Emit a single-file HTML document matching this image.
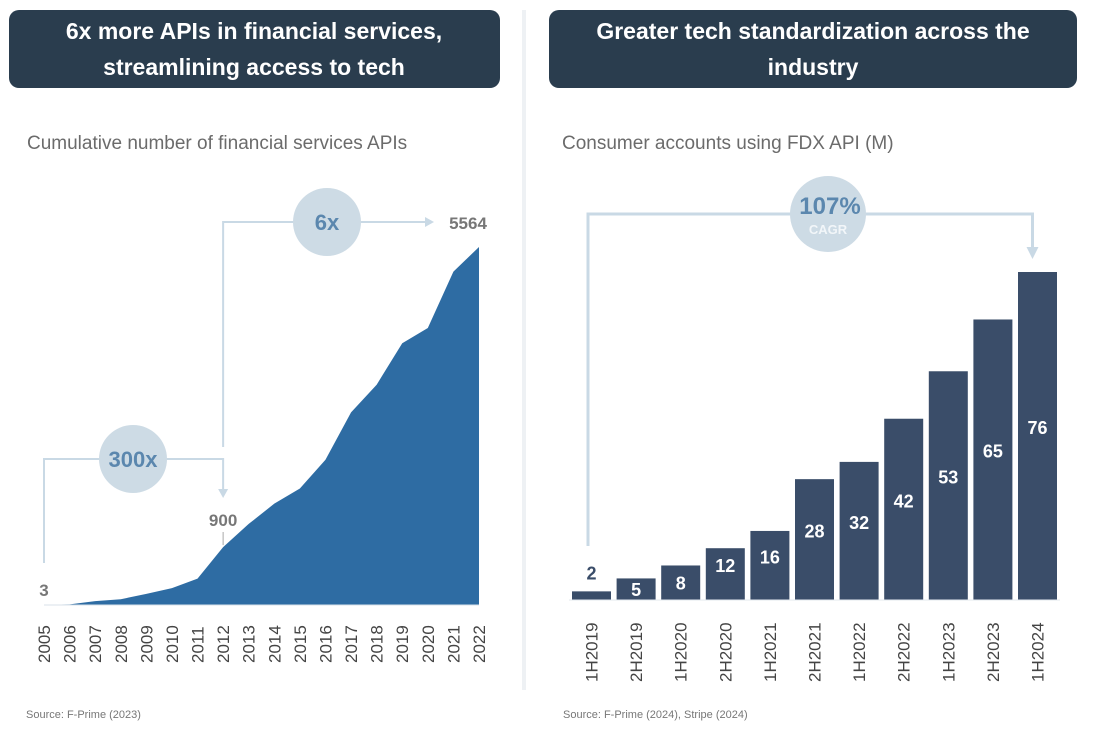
<!DOCTYPE html>
<html><head><meta charset="utf-8"><style>
body{margin:0;background:#fff;width:1094px;height:725px;overflow:hidden;font-family:"Liberation Sans",sans-serif}
</style></head><body>
<svg width="1094" height="725" viewBox="0 0 1094 725" xmlns="http://www.w3.org/2000/svg" font-family="Liberation Sans, sans-serif">
<g>
<rect x="9" y="10" width="491" height="78" rx="10" fill="#2a3d4e"/>
<text x="254" y="39" text-anchor="middle" fill="#fff" font-size="23" font-weight="bold">6x more APIs in financial services,</text>
<text x="254" y="75" text-anchor="middle" fill="#fff" font-size="23" font-weight="bold">streamlining access to tech</text>
<text x="27" y="149" fill="#6b6b6b" font-size="19">Cumulative number of financial services APIs</text>
<g id="area"></g>
<text x="26" y="718" fill="#777" font-size="11">Source: F-Prime (2023)</text>
</g>
<rect x="522" y="10" width="4" height="680" fill="#eef1f4"/>
<g>
<rect x="549" y="10" width="528" height="78" rx="10" fill="#2a3d4e"/>
<text x="813" y="39" text-anchor="middle" fill="#fff" font-size="23" font-weight="bold">Greater tech standardization across the</text>
<text x="813" y="75" text-anchor="middle" fill="#fff" font-size="23" font-weight="bold">industry</text>
<text x="562" y="149" fill="#6b6b6b" font-size="19">Consumer accounts using FDX API (M)</text>
<g id="bars"></g>
<text x="563" y="718" fill="#777" font-size="11">Source: F-Prime (2024), Stripe (2024)</text>
</g>
</svg>
<script>
const years=['2005','2006','2007','2008','2009','2010','2011','2012','2013','2014','2015','2016','2017','2018','2019','2020','2021','2022'];
const apis=[3,10,60,90,173,263,410,900,1260,1575,1811,2258,2993,3423,4069,4305,5182,5564];
const periods=['1H2019','2H2019','1H2020','2H2020','1H2021','2H2021','1H2022','2H2022','1H2023','2H2023','1H2024'];
const accounts=[2,5,8,12,16,28,32,42,53,65,76];
const NS='http://www.w3.org/2000/svg';
function mk(p,t,a){const e=document.createElementNS(NS,t);for(const k in a)e.setAttribute(k,a[k]);p.appendChild(e);return e;}
const LC='#c9d9e5',CC='#cddbe5',CT='#5b87ae';
// left area
const ga=document.getElementById('area');
const x0=44,x1=479,base=605,yTop=247;
const lx=i=>x0+i*(x1-x0)/(years.length-1);
const ly=v=>base-v/apis[apis.length-1]*(base-yTop);
let d='M'+lx(0)+','+base;
apis.forEach((v,i)=>{d+=' L'+lx(i)+','+ly(v);});
d+=' L'+lx(apis.length-1)+','+base+' Z';
const ar=mk(ga,'path',{d:d,fill:'#2e6ca3'});


mk(ga,'line',{x1:x0,y1:base,x2:x1,y2:base,stroke:'#d8e2ea','stroke-width':1});
years.forEach((y,i)=>{const t=mk(ga,'text',{transform:`translate(${lx(i)+6},663) rotate(-90)`,'font-size':17,fill:'#444'});t.textContent=y;

});
// brackets left
const i12=years.indexOf('2012');
mk(ga,'path',{d:`M${lx(0)},563 V459 H${lx(i12)} V492`,fill:'none',stroke:LC,'stroke-width':2});
mk(ga,'path',{d:`M${lx(i12)-5},489 L${lx(i12)},498 L${lx(i12)+5},489`,fill:LC});
mk(ga,'path',{d:`M${lx(i12)},447 V222 H428`,fill:'none',stroke:LC,'stroke-width':2});
mk(ga,'path',{d:`M425,217 L434,222 L425,227 Z`,fill:LC});
let c=mk(ga,'circle',{cx:133,cy:459,r:34,fill:CC});


let t=mk(ga,'text',{x:133,y:467,'text-anchor':'middle','font-size':22,'font-weight':'bold',fill:CT});t.textContent='300x';
c=mk(ga,'circle',{cx:327,cy:222,r:34,fill:CC});


t=mk(ga,'text',{x:327,y:230,'text-anchor':'middle','font-size':22,'font-weight':'bold',fill:CT});t.textContent='6x';
t=mk(ga,'text',{x:lx(0),y:596,'text-anchor':'middle','font-size':17,'font-weight':'bold',fill:'#777'});t.textContent=apis[0];


t=mk(ga,'text',{x:lx(i12),y:526,'text-anchor':'middle','font-size':17,'font-weight':'bold',fill:'#777'});t.textContent=apis[i12];


mk(ga,'line',{x1:lx(i12),y1:532,x2:lx(i12),y2:ly(apis[i12])-2,stroke:'#aaa'});
t=mk(ga,'text',{x:468,y:229,'text-anchor':'middle','font-size':17,'font-weight':'bold',fill:'#777'});t.textContent=apis[apis.length-1];


// bars
const gb=document.getElementById('bars');
const bx0=572,step=44.6,bw=39,bb=600,scale=(600-272)/76;
const by=v=>bb-v*scale;
accounts.forEach((v,i)=>{
 const x=bx0+i*step;
 const r=mk(gb,'rect',{x:x,y:by(v),width:bw,height:bb-by(v),fill:'#3a4d69'});
 
 
 const h=bb-by(v);
 const ty=h<14?by(v)-12:(h<40?by(v)+h/2+7:by(v)+h/2-2);
 const tt=mk(gb,'text',{x:x+bw/2,y:ty,'text-anchor':'middle','font-size':18,'font-weight':'bold',fill:h<14?'#3a4d69':'#fff'});
 tt.textContent=v;
 
 
 const lt=mk(gb,'text',{transform:`translate(${x+bw/2+6},682) rotate(-90)`,'font-size':17,fill:'#444'});
 lt.textContent=periods[i];
 
 
});
mk(gb,'line',{x1:bx0-3,y1:bb,x2:bx0+10*step+bw+3,y2:bb,stroke:'#e3e8ee'});
const ax=bx0+10*step+bw/2-5;
mk(gb,'path',{d:`M588,546 V214 H${ax} V250`,fill:'none',stroke:LC,'stroke-width':3});
mk(gb,'path',{d:`M${ax-6},247 L${ax},259 L${ax+6},247 Z`,fill:LC});
c=mk(gb,'circle',{cx:828,cy:214,r:38,fill:CC});


t=mk(gb,'text',{x:830,y:214,'text-anchor':'middle','font-size':24,'font-weight':'bold',fill:CT});t.textContent='107%';
t=mk(gb,'text',{x:828,y:234,'text-anchor':'middle','font-size':13,'font-weight':'bold',fill:'#f2f6f9'});t.textContent='CAGR';
</script>
</body></html>
